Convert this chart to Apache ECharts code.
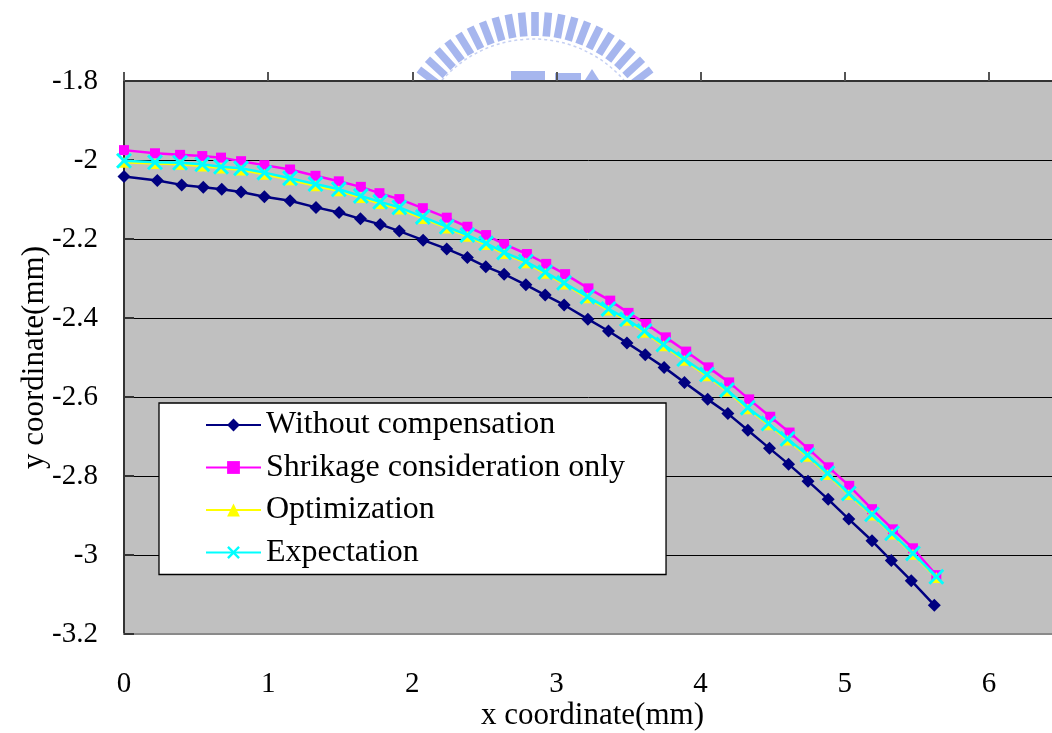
<!DOCTYPE html>
<html>
<head>
<meta charset="utf-8">
<script src="https://cdn.jsdelivr.net/npm/echarts@6/dist/echarts.min.js"></script>
<style>
  html, body { margin: 0; padding: 0; background: #ffffff; }
  #chart { width: 1052px; height: 733px; }
</style>
</head>
<body>
<div id="chart"></div>
<script>
// Profile of the formed part: y coordinate (mm) against x coordinate (mm)
const seriesNames = ['Without compensation', 'Shrikage consideration only', 'Optimization', 'Expectation'];

const xWithout = [0, 0.231, 0.400, 0.550, 0.678, 0.812, 0.974, 1.152, 1.332, 1.492, 1.640, 1.777, 1.910,
  2.075, 2.239, 2.382, 2.510, 2.637, 2.788, 2.922, 3.053, 3.218, 3.361, 3.489, 3.616, 3.747, 3.888,
  4.049, 4.189, 4.328, 4.478, 4.610, 4.745, 4.885, 5.028, 5.189, 5.323, 5.461, 5.621];
const yWithout = [-2.042, -2.052, -2.063, -2.069, -2.074, -2.081, -2.093, -2.103, -2.120, -2.133, -2.149,
  -2.163, -2.180, -2.203, -2.225, -2.247, -2.270, -2.289, -2.316, -2.342, -2.367, -2.403, -2.433, -2.463,
  -2.493, -2.525, -2.563, -2.606, -2.642, -2.684, -2.730, -2.770, -2.813, -2.859, -2.909, -2.964, -3.014,
  -3.065, -3.127];

const xShrink = [0, 0.215, 0.389, 0.543, 0.673, 0.812, 0.974, 1.152, 1.328, 1.490, 1.643, 1.772, 1.910,
  2.073, 2.239, 2.382, 2.512, 2.637, 2.795, 2.929, 3.060, 3.222, 3.373, 3.500, 3.623, 3.759, 3.900,
  4.055, 4.198, 4.337, 4.483, 4.617, 4.750, 4.888, 5.031, 5.189, 5.334, 5.473, 5.635];
const yShrink = [-1.975, -1.983, -1.987, -1.990, -1.994, -2.003, -2.013, -2.024, -2.040, -2.054, -2.068,
  -2.084, -2.099, -2.122, -2.146, -2.169, -2.190, -2.213, -2.238, -2.263, -2.289, -2.325, -2.356, -2.387,
  -2.415, -2.449, -2.485, -2.525, -2.563, -2.606, -2.650, -2.690, -2.732, -2.778, -2.825, -2.884, -2.935,
  -2.983, -3.051];

const xOptimized = [0, 0.215, 0.389, 0.543, 0.673, 0.812, 0.974, 1.152, 1.328, 1.490, 1.643, 1.777, 1.910,
  2.073, 2.239, 2.382, 2.512, 2.637, 2.788, 2.922, 3.053, 3.215, 3.361, 3.489, 3.611, 3.742, 3.886,
  4.044, 4.183, 4.327, 4.471, 4.603, 4.742, 4.880, 5.028, 5.189, 5.328, 5.473, 5.635];
const yOptimized = [-2.006, -2.009, -2.011, -2.015, -2.020, -2.025, -2.036, -2.050, -2.065, -2.078, -2.095,
  -2.110, -2.124, -2.148, -2.172, -2.193, -2.214, -2.237, -2.260, -2.287, -2.314, -2.349, -2.380, -2.406,
  -2.436, -2.470, -2.507, -2.546, -2.585, -2.630, -2.670, -2.709, -2.750, -2.796, -2.847, -2.899, -2.947,
  -2.998, -3.057];

const xExpected = [0, 0.215, 0.389, 0.543, 0.673, 0.812, 0.974, 1.152, 1.328, 1.490, 1.643, 1.777, 1.910,
  2.073, 2.239, 2.382, 2.512, 2.637, 2.788, 2.922, 3.053, 3.215, 3.361, 3.489, 3.611, 3.742, 3.886,
  4.044, 4.183, 4.327, 4.471, 4.603, 4.742, 4.880, 5.028, 5.189, 5.328, 5.473, 5.635];
const yExpected = [-2.002, -2.006, -2.007, -2.011, -2.017, -2.021, -2.032, -2.046, -2.061, -2.074, -2.091,
  -2.106, -2.120, -2.144, -2.169, -2.190, -2.211, -2.234, -2.257, -2.284, -2.311, -2.346, -2.377, -2.403,
  -2.433, -2.467, -2.504, -2.543, -2.582, -2.627, -2.667, -2.706, -2.747, -2.793, -2.844, -2.897, -2.945,
  -2.996, -3.055];

const xAxisTicks = [0, 1, 2, 3, 4, 5, 6];

const FONT = "'Liberation Serif', 'Times New Roman', serif";

function pairs(xs, ys) {
  return xs.map((x, i) => [x, ys[i]]);
}

// filled "x" cross used as a marker
const crossSymbol = 'path://M0,1.3L1.3,0L5,3.7L8.7,0L10,1.3L6.3,5L10,8.7L8.7,10L5,6.3L1.3,10L0,8.7L3.7,5Z';

// faint seal printed behind the top edge of the plot
const sealColor = '#a6b6ee';
const seal = [];
(function buildSeal() {
  const cx = 535, cy = 158, rTooth = 134;
  for (let k = -10; k <= 10; k++) {
    const a = k * 0.092;
    seal.push({
      type: 'rect',
      x: cx + rTooth * Math.sin(a),
      y: cy - rTooth * Math.cos(a),
      rotation: -a,
      shape: { x: -3.8, y: -12, width: 7.6, height: 24 },
      style: { fill: sealColor },
      z: -10,
      silent: true
    });
  }
  seal.push({
    type: 'arc',
    shape: { cx: 533, cy: 160, r: 121, startAngle: -Math.PI / 2 - 0.9, endAngle: -Math.PI / 2 + 0.9 },
    style: { stroke: '#c6d0f2', lineWidth: 1.5, lineDash: [3, 3], fill: null },
    z: -10,
    silent: true
  });
  seal.push({ type: 'rect', shape: { x: 511, y: 71, width: 34, height: 12 }, style: { fill: sealColor }, z: -10, silent: true });
  seal.push({ type: 'rect', shape: { x: 555, y: 73, width: 26, height: 10 }, style: { fill: sealColor }, z: -10, silent: true });
  seal.push({ type: 'polygon', shape: { points: [[583, 83], [592, 69], [601, 83]] }, style: { fill: sealColor }, z: -10, silent: true });
})();

const chart = echarts.init(document.getElementById('chart'), null, { renderer: 'canvas' });

chart.setOption({
  animation: false,
  backgroundColor: '#ffffff',
  textStyle: { fontFamily: FONT },
  graphic: { elements: seal },
  grid: {
    left: 124,
    top: 81,
    width: 937,
    height: 553,
    outerBoundsMode: 'none',
    containLabel: false,
    show: true,
    backgroundColor: '#c0c0c0',
    borderWidth: 0,
    z: 0
  },
  legend: {
    orient: 'vertical',
    left: 159,
    top: 403,
    padding: [5, 41, 5, 46],
    itemGap: 8.5,
    itemWidth: 55,
    itemHeight: 16,
    backgroundColor: '#ffffff',
    borderColor: '#000000',
    borderWidth: 1.3,
    data: seriesNames,
    textStyle: { fontFamily: FONT, fontSize: 32, color: '#000000', lineHeight: 34 }
  },
  xAxis: [
    {
      type: 'value',
      position: 'bottom',
      min: 0,
      max: 6.5,
      interval: 1,
      name: 'x coordinate(mm)',
      nameLocation: 'middle',
      nameGap: 66,
      nameMoveOverlap: false,
      nameTextStyle: { fontFamily: FONT, fontSize: 31, color: '#000000' },
      axisLine: { show: true, lineStyle: { color: '#8a8a8a', width: 2 } },
      axisTick: { show: false },
      splitLine: { show: false },
      axisLabel: {
        fontFamily: FONT,
        fontSize: 29,
        color: '#000000',
        margin: 36,
        showMaxLabel: false,
        formatter: v => (xAxisTicks.indexOf(v) >= 0 ? String(v) : '')
      }
    },
    {
      type: 'value',
      position: 'top',
      min: 0,
      max: 6.5,
      interval: 1,
      axisLine: { show: true, lineStyle: { color: '#333333', width: 2 } },
      axisTick: { show: true, inside: false, length: 9, lineStyle: { color: '#555555', width: 2 } },
      axisLabel: { show: false },
      splitLine: { show: false }
    }
  ],
  yAxis: {
    type: 'value',
    min: -3.2,
    max: -1.8,
    interval: 0.2,
    name: 'y coordinate(mm)',
    nameLocation: 'middle',
    nameGap: 74,
    nameMoveOverlap: false,
    nameTextStyle: { fontFamily: FONT, fontSize: 31, color: '#000000' },
    axisLine: { show: true, lineStyle: { color: '#333333', width: 2 } },
    axisTick: { show: true, inside: true, length: 10, lineStyle: { color: '#333333', width: 2 } },
    splitLine: { show: true, lineStyle: { color: '#000000', width: 1 } },
    axisLabel: {
      fontFamily: FONT,
      fontSize: 29,
      color: '#000000',
      margin: 26,
      formatter: v => String(Math.round(v * 10) / 10)
    }
  },
  series: [
    {
      name: seriesNames[0],
      type: 'line',
      data: pairs(xWithout, yWithout),
      symbol: 'diamond',
      symbolSize: 13,
      lineStyle: { color: '#000080', width: 2.5 },
      itemStyle: { color: '#000080' },
      z: 2
    },
    {
      name: seriesNames[1],
      type: 'line',
      data: pairs(xShrink, yShrink),
      symbol: 'rect',
      symbolSize: 10,
      lineStyle: { color: '#ff00ff', width: 2.5 },
      itemStyle: { color: '#ff00ff' },
      z: 3
    },
    {
      name: seriesNames[2],
      type: 'line',
      data: pairs(xOptimized, yOptimized),
      symbol: 'triangle',
      symbolSize: 11,
      lineStyle: { color: '#ffff00', width: 2.5 },
      itemStyle: { color: '#ffff00' },
      z: 4
    },
    {
      name: seriesNames[3],
      type: 'line',
      data: pairs(xExpected, yExpected),
      symbol: crossSymbol,
      symbolSize: 16,
      lineStyle: { color: '#00ffff', width: 2.5 },
      itemStyle: { color: '#00ffff' },
      z: 5
    }
  ]
});
</script>
</body>
</html>
